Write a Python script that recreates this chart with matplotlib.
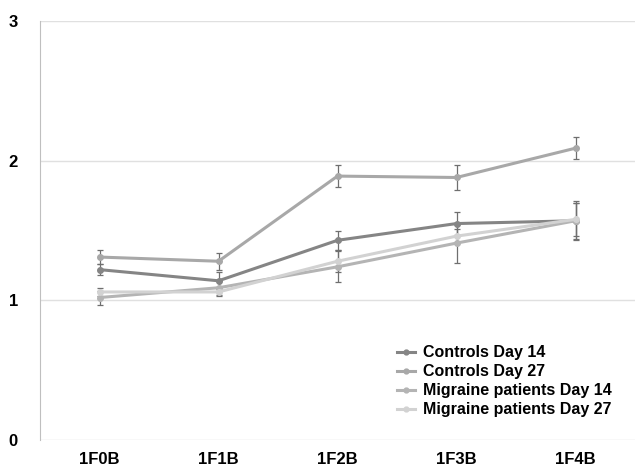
import numpy as np
import matplotlib.pyplot as plt
from matplotlib.lines import Line2D

plt.rcParams['font.family'] = ['Liberation Sans', 'DejaVu Sans']

# data
categories = ['1F0B', '1F1B', '1F2B', '1F3B', '1F4B']
series_names = ['Controls Day 14', 'Controls Day 27',
                'Migraine patients Day 14', 'Migraine patients Day 27']
controls_d14 = [1.22, 1.14, 1.43, 1.55, 1.57]
controls_d27 = [1.31, 1.28, 1.89, 1.88, 2.09]
migraine_d14 = [1.02, 1.09, 1.24, 1.41, 1.57]
migraine_d27 = [1.06, 1.06, 1.28, 1.46, 1.58]
controls_d14_err = [0.04, 0.06, 0.07, 0.08, 0.14]
controls_d27_err = [0.05, 0.06, 0.08, 0.09, 0.08]
migraine_d14_err = [0.05, 0.05, 0.11, 0.14, 0.13]
migraine_d27_err = [0.03, 0.03, 0.08, 0.05, 0.12]

colors = ['#858585', '#a8a8a8', '#b4b4b4', '#d2d2d2']

fig = plt.figure(figsize=(6.35, 4.70), dpi=100)
ax = fig.add_axes([0.063, 0.064, 0.937, 0.891])

x = np.arange(len(categories))
values = [controls_d14, controls_d27, migraine_d14, migraine_d27]
errors = [controls_d14_err, controls_d27_err, migraine_d14_err, migraine_d27_err]
handles = []
for name, vals, errs, col in zip(series_names, values, errors, colors):
    ax.errorbar(x, vals, yerr=errs, color=col, lw=2.2, marker='o', ms=4,
                ecolor='#6f6f6f', elinewidth=0.9, capsize=2.5, capthick=0.9,
                zorder=3)
    handles.append(Line2D([], [], color=col, lw=2.2, marker='o', ms=3.5,
                          label=name))

ax.set_xlim(-0.5, len(categories) - 0.5)
ax.set_ylim(0, 3)
ax.set_yticks([0, 1, 2, 3])
ax.set_xticks(x)
ax.set_xticklabels(categories, fontsize=12, fontweight='bold')
for lbl in ax.get_yticklabels():
    lbl.set_fontsize(12)
    lbl.set_fontweight('bold')
ax.yaxis.grid(True, color='#e0e0e0', lw=1)
ax.set_axisbelow(True)
ax.tick_params(length=0)
ax.tick_params(axis='x', pad=9)
ax.tick_params(axis='y', pad=16)
for s in ['top', 'right', 'bottom']:
    ax.spines[s].set_visible(False)
ax.spines['left'].set_color('#bfbfbf')

ax.legend(handles=handles, loc='lower right', bbox_to_anchor=(0.985, 0.02),
          frameon=False, prop={'weight': 'bold', 'size': 11.5},
          handlelength=1.1, labelspacing=0.25, handletextpad=0.5)

fig.savefig('out.png', dpi=100)
